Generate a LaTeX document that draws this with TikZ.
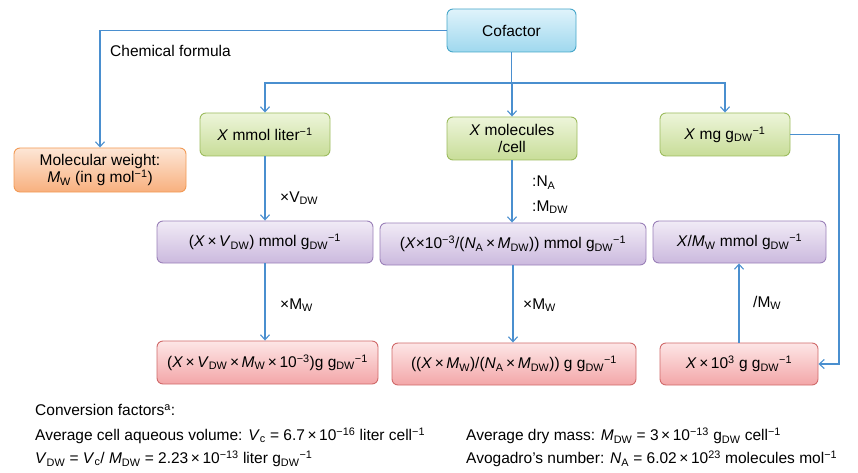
\documentclass[tikz,border=0pt]{standalone}
\usepackage{fontspec}
\setmainfont{Liberation Sans}[Ligatures=ResetAll]
\usetikzlibrary{arrows.meta}
\newcommand\sbs[1]{\textsubscript{#1}}
\newcommand\sps[1]{\textsuperscript{#1}}
\newcommand\tm{\,×\,}
\definecolor{lnc}{HTML}{4A8FCF}
\begin{document}
\begin{tikzpicture}[x=1pt,y=-1pt,
  font=\fontsize{15.5}{18.5}\selectfont,
  box/.style={rounded corners=6pt, line width=0.9pt, align=center, inner sep=2pt, minimum height=43pt},
  cofbox/.style={box, draw=cofB, top color=cofT, bottom color=cofD},
  grnbox/.style={box, draw=grnB, top color=grnT, bottom color=grnD},
  orgbox/.style={box, draw=orgB, top color=orgT, bottom color=orgD},
  purbox/.style={box, draw=purB, top color=purT, bottom color=purD},
  redbox/.style={box, draw=redB, top color=redT, bottom color=redD},
  conn/.style={draw=lnc, line width=1.1pt},
  arr/.style={conn, -{Straight Barb[length=5pt,width=9pt]}},
  lbl/.style={anchor=west, inner sep=0pt, align=left},
  ftxt/.style={anchor=west, inner sep=0pt}
]
\definecolor{cofB}{HTML}{45A6C9}\definecolor{cofT}{HTML}{DFF3FB}\definecolor{cofD}{HTML}{9FD8EE}
\definecolor{grnB}{HTML}{9CBB5E}\definecolor{grnT}{HTML}{EDF5DA}\definecolor{grnD}{HTML}{C8DD98}
\definecolor{orgB}{HTML}{F29A55}\definecolor{orgT}{HTML}{FDE6D6}\definecolor{orgD}{HTML}{F8B07E}
\definecolor{purB}{HTML}{9A80B8}\definecolor{purT}{HTML}{F1EBF6}\definecolor{purD}{HTML}{CBB9DE}
\definecolor{redB}{HTML}{D06A6A}\definecolor{redT}{HTML}{FDE6E6}\definecolor{redD}{HTML}{F3A6A8}
\useasboundingbox (0,0) rectangle (858,473);

% nodes
\node[cofbox, minimum width=129pt] (cof) at (511.5,30.5) {Cofactor};
\node[orgbox, minimum width=172pt, minimum height=44pt] (mw) at (100,170) {Molecular weight:\\[-1pt]\textit{M}\sbs{W} (in g mol\sps{−1})};
\node[grnbox, minimum width=130pt] (g1) at (265,134.5) {\textit{X} mmol liter\sps{−1}};
\node[grnbox, minimum width=130pt] (g2) at (512,138.5) {\textit{X} molecules\\[-1pt]/cell};
\node[grnbox, minimum width=130pt] (g3) at (725,134.5) {\textit{X} mg g\sbs{DW}\sps{−1}};
\node[purbox, minimum width=216pt, minimum height=42pt] (p1) at (265,242) {(\textit{X}\tm\textit{V}\sbs{DW}) mmol g\sbs{DW}\sps{−1}};
\node[purbox, minimum width=266pt, minimum height=42pt] (p2) at (513,244) {(\textit{X}×10\sps{−3}/(\textit{N}\sbs{A}\tm\textit{M}\sbs{DW})) mmol g\sbs{DW}\sps{−1}};
\node[purbox, minimum width=173pt, minimum height=42pt] (p3) at (739.5,242) {\textit{X}/\textit{M}\sbs{W} mmol g\sbs{DW}\sps{−1}};
\node[redbox, minimum width=221pt] (r1) at (267.5,362.5) {(\textit{X}\tm\textit{V}\sbs{DW}\tm\textit{M}\sbs{W}\tm10\sps{−3})g g\sbs{DW}\sps{−1}};
\node[redbox, minimum width=244pt, minimum height=42pt] (r2) at (514,364) {((\textit{X}\tm\textit{M}\sbs{W})/(\textit{N}\sbs{A}\tm\textit{M}\sbs{DW})) g g\sbs{DW}\sps{−1}};
\node[redbox, minimum width=158pt, minimum height=42pt] (r3) at (739,364) {\textit{X}\tm10\sps{3} g g\sbs{DW}\sps{−1}};

% connectors
\coordinate (hub) at (511.5,83);
\coordinate (rt) at (839,134.5);
\draw[arr] (cof.west) -| (mw.north);
\draw[conn] (cof.south) -- (hub);
\draw[arr] (hub) -| (g1.north);
\draw[arr] (hub) -| (g3.north);
\draw[arr] (hub -| g2.north) -- (g2.north);
\draw[arr] (g1.south) -- (g1.south |- p1.north);
\draw[arr] (p1.south) -- (p1.south |- r1.north);
\draw[arr] (g2.south) -- (g2.south |- p2.north);
\draw[arr] (p2.south) -- (p2.south |- r2.north);
\draw[arr] (r3.north) -- (r3.north |- p3.south);
\draw[arr] (g3.east) -- (rt) |- (r3.east);

% labels
\node[lbl] (lcf) at (110,51) {Chemical formula};
\node[lbl] (lvdw) at (280,198) {×V\sbs{DW}};
\node[lbl] (lna) at (532,195) {:N\sbs{A}\\[6pt]:M\sbs{DW}};
\node[lbl] (lmw1) at (280,305) {×M\sbs{W}};
\node[lbl] (lmw2) at (523,305) {×M\sbs{W}};
\node[lbl] (lmw3) at (753,303) {/M\sbs{W}};

% conversion factors
\node[ftxt] (cf0) at (35,410) {Conversion factors\sps{a}:};
\node[ftxt] (cf1) at (35,436) {Average cell aqueous volume: \textit{V}\sbs{c} = 6.7\tm10\sps{−16} liter cell\sps{−1}};
\node[ftxt] (cf2) at (35,459) {\textit{V}\sbs{DW} = \textit{V}\sbs{c}/ \textit{M}\sbs{DW} = 2.23\tm10\sps{−13} liter g\sbs{DW}\sps{−1}};
\node[ftxt] (cf3) at (466,436) {Average dry mass: \textit{M}\sbs{DW} = 3\tm10\sps{−13} g\sbs{DW} cell\sps{−1}};
\node[ftxt] (cf4) at (466,459) {Avogadro's number: \textit{N}\sbs{A} = 6.02\tm10\sps{23} molecules mol\sps{−1}};
\end{tikzpicture}
\end{document}
